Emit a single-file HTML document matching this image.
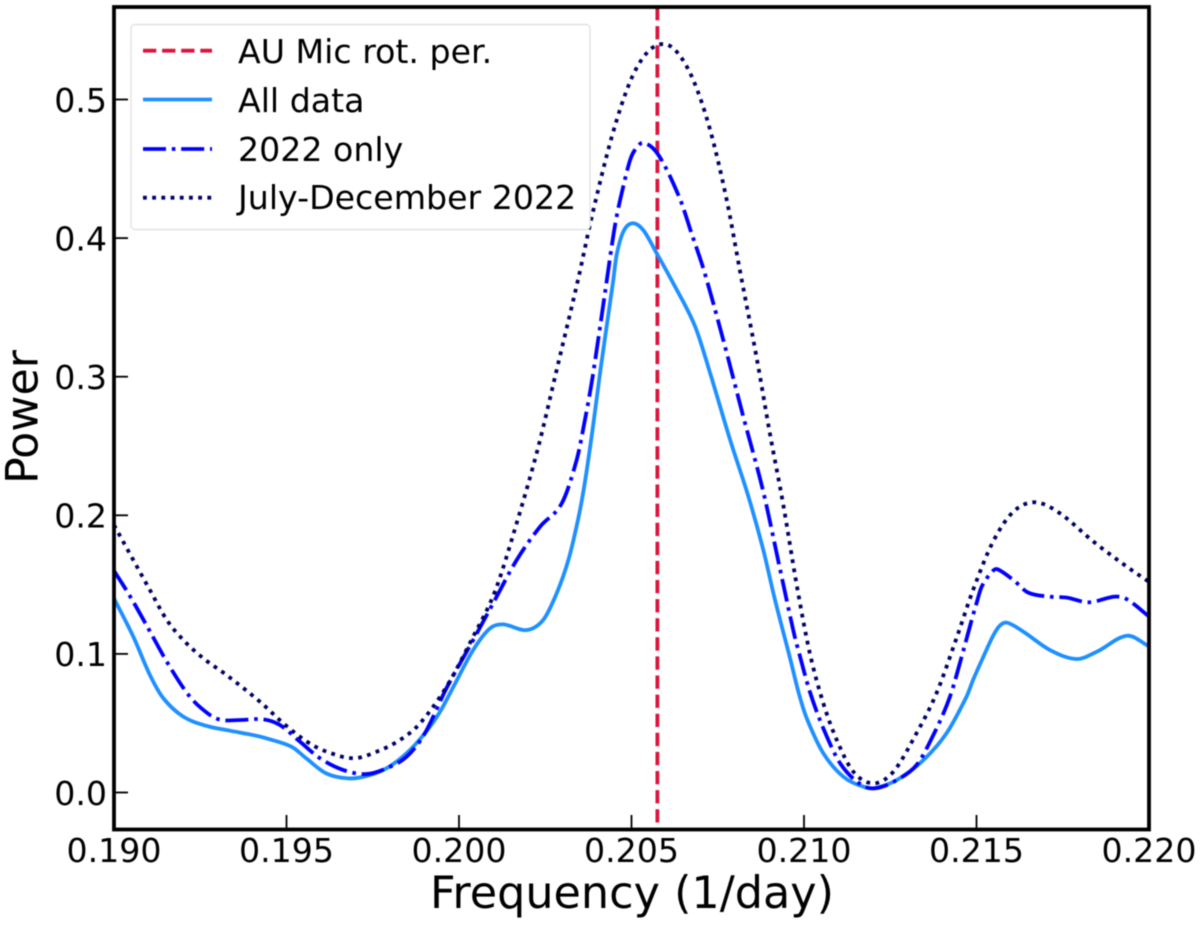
<!DOCTYPE html>
<html>
<head>
<meta charset="utf-8">
<title>Power vs Frequency</title>
<style>
html,body{margin:0;padding:0;background:#fff;width:1200px;height:925px;overflow:hidden}
svg{display:block;filter:blur(.4px)}
text{font-family:"DejaVu Sans","Liberation Sans",sans-serif;fill:#000}
</style>
</head>
<body>
<svg id="chart" xmlns="http://www.w3.org/2000/svg" width="1200" height="925" viewBox="0 0 1200 925">
  <defs>
    <clipPath id="plot-clip"><rect x="114" y="7" width="1035" height="822"></rect></clipPath>
  </defs>
  <rect x="0" y="0" width="1200" height="925" fill="#fff"></rect>
  <g id="series" clip-path="url(#plot-clip)"></g>
  <g id="ticks"></g>
  <rect x="114" y="7" width="1035" height="822.5" fill="none" stroke="#000" stroke-width="3.8"></rect>
  <text x="632" y="908" font-size="44.5" text-anchor="middle">Frequency (1/day)</text>
  <text transform="translate(37.5,417) rotate(-90)" font-size="44.3" text-anchor="middle">Power</text>
  <g>
    <rect x="131" y="24.5" width="459" height="205" rx="4" ry="4" fill="#fff" stroke="#e2e2e2" stroke-width="1.4"></rect>
    <line x1="143" x2="212" y1="50.7" y2="50.7" stroke="#dc143c" stroke-width="3.8" stroke-dasharray="13.3 5.8"></line>
    <text x="238" y="63" font-size="33.2">AU Mic rot. per.</text>
    <line x1="143" x2="212" y1="99.5" y2="99.5" stroke="#1e90ff" stroke-width="3.8"></line>
    <text x="238" y="112" font-size="33.2">All data</text>
    <line x1="143" x2="212" y1="149" y2="149" stroke="#0000ff" stroke-width="3.8" stroke-dasharray="23 5.8 3.6 5.8"></line>
    <text x="238" y="161" font-size="33.2">2022 only</text>
    <line x1="143" x2="212" y1="197.7" y2="197.7" stroke="#000066" stroke-width="3.8" stroke-dasharray="3.8 5.4"></line>
    <text x="238" y="209" font-size="33.2">July-December 2022</text>
  </g>
</svg>
<script>
const xTicks = [0.190, 0.195, 0.200, 0.205, 0.210, 0.215, 0.220];
const xTickLabels = ["0.190", "0.195", "0.200", "0.205", "0.210", "0.215", "0.220"];
const yTicks = [0.0, 0.1, 0.2, 0.3, 0.4, 0.5];
const yTickLabels = ["0.0", "0.1", "0.2", "0.3", "0.4", "0.5"];
const rotationFrequency = [0.20575];

const allFreq = [0.19,0.19056,0.19104,0.19143,0.19201,0.19269,0.19336,0.19398,0.19443,0.19515,0.19557,0.19615,0.19679,0.19732,0.1979,0.19848,0.19901,0.19945,0.19984,0.20041,0.2009,0.20128,0.20196,0.20244,0.20283,0.20317,0.20346,0.20365,0.20387,0.2041,0.20432,0.20446,0.20457,0.20477,0.20503,0.20534,0.20573,0.20621,0.20684,0.20728,0.20786,0.20839,0.20882,0.20916,0.20959,0.20985,0.21008,0.21056,0.21114,0.21172,0.21206,0.21269,0.21346,0.21413,0.21471,0.2149,0.2152,0.21548,0.21568,0.21589,0.21636,0.21713,0.2179,0.21849,0.21936,0.22];
const allPower = [0.14,0.1124,0.0848,0.068,0.0547,0.048,0.0446,0.0417,0.039,0.033,0.0247,0.0138,0.0102,0.0119,0.0175,0.0283,0.0427,0.0583,0.0764,0.1028,0.1185,0.1213,0.1172,0.1245,0.1437,0.1677,0.198,0.224,0.2615,0.3048,0.3433,0.3675,0.388,0.405,0.4107,0.4058,0.389,0.3674,0.3365,0.3025,0.2543,0.2134,0.175,0.1389,0.0975,0.0715,0.0535,0.0283,0.0114,0.0042,0.0032,0.009,0.0234,0.0427,0.0691,0.0812,0.098,0.113,0.1205,0.1225,0.116,0.1028,0.0963,0.1016,0.1131,0.1055];

const only2022Freq = [0.19,0.19046,0.19102,0.19157,0.1922,0.19278,0.19312,0.19365,0.19433,0.19481,0.19539,0.19597,0.19665,0.19732,0.1979,0.19848,0.19901,0.19964,0.20041,0.20104,0.20167,0.20235,0.20298,0.20341,0.20365,0.20385,0.20409,0.20423,0.20452,0.20476,0.20496,0.2051,0.20534,0.20578,0.20639,0.20675,0.20711,0.20766,0.20824,0.20882,0.2093,0.2097,0.20986,0.21017,0.21056,0.21106,0.21167,0.2121,0.21269,0.21326,0.21375,0.21423,0.21462,0.21486,0.215,0.21515,0.21548,0.21562,0.21607,0.2165,0.21713,0.21762,0.21825,0.21901,0.21936,0.22];
const only2022Power = [0.16,0.1418,0.1172,0.0927,0.0691,0.0559,0.0523,0.0523,0.0528,0.0487,0.0367,0.0247,0.0162,0.0133,0.0175,0.0258,0.0427,0.0754,0.11,0.1389,0.1677,0.1918,0.2087,0.2399,0.2688,0.2964,0.3361,0.3602,0.4089,0.4371,0.4563,0.4636,0.4688,0.46,0.4292,0.4027,0.3758,0.3265,0.2712,0.217,0.1618,0.1158,0.1004,0.0727,0.0463,0.0206,0.0054,0.0032,0.009,0.0198,0.0415,0.0691,0.1025,0.1245,0.1365,0.1485,0.16,0.161,0.1533,0.1442,0.1413,0.1406,0.1372,0.1413,0.1394,0.127];

const julyDecFreq = [0.19,0.19056,0.19104,0.19153,0.19201,0.19259,0.19326,0.19423,0.19491,0.19559,0.19617,0.19694,0.19761,0.19829,0.19887,0.19964,0.20041,0.20104,0.20167,0.2023,0.20283,0.20346,0.20385,0.20443,0.20496,0.20544,0.2059,0.20631,0.20679,0.20728,0.20776,0.20814,0.20863,0.20901,0.2094,0.20979,0.21017,0.21056,0.21095,0.21143,0.21201,0.21259,0.21326,0.21384,0.21442,0.2149,0.21548,0.21607,0.2167,0.21742,0.21839,0.21936,0.22];
const julyDecPower = [0.193,0.1677,0.1461,0.1245,0.11,0.0968,0.0848,0.0655,0.0499,0.0367,0.0294,0.0247,0.0294,0.0379,0.0499,0.0764,0.1124,0.1449,0.1942,0.2495,0.3048,0.371,0.4155,0.4732,0.5129,0.5335,0.54,0.5345,0.5141,0.478,0.4275,0.377,0.3133,0.2592,0.2075,0.1495,0.1004,0.0644,0.0379,0.015,0.0066,0.015,0.0427,0.0716,0.1113,0.1461,0.181,0.2026,0.2094,0.2014,0.181,0.1629,0.152];

const SVG_NS = "http://www.w3.org/2000/svg";
function xScale(f) { return 114 + (f - 0.19) * 34500; }
function yScale(v) { return 792.5 - v * 1386; }

function smoothPath(freqs, powers) {
  const px = freqs.map(xScale);
  const py = powers.map(yScale);
  const n = px.length;
  const m = [];
  for (let i = 0; i < n; i++) {
    if (i === 0) m.push((py[1] - py[0]) / (px[1] - px[0]));
    else if (i === n - 1) m.push((py[n - 1] - py[n - 2]) / (px[n - 1] - px[n - 2]));
    else m.push((py[i + 1] - py[i - 1]) / (px[i + 1] - px[i - 1]));
  }
  let d = "M" + px[0].toFixed(2) + " " + py[0].toFixed(2);
  for (let i = 0; i < n - 1; i++) {
    const h = (px[i + 1] - px[i]) / 3;
    d += "C" + (px[i] + h).toFixed(2) + " " + (py[i] + m[i] * h).toFixed(2) + " "
      + (px[i + 1] - h).toFixed(2) + " " + (py[i + 1] - m[i + 1] * h).toFixed(2) + " "
      + px[i + 1].toFixed(2) + " " + py[i + 1].toFixed(2);
  }
  return d;
}

const seriesGroup = document.getElementById("series");
const ticksGroup = document.getElementById("ticks");

function addCurve(freqs, powers, color, dash) {
  const el = document.createElementNS(SVG_NS, "path");
  el.setAttribute("d", smoothPath(freqs, powers));
  el.setAttribute("fill", "none");
  el.setAttribute("stroke", color);
  el.setAttribute("stroke-width", "3.8");
  el.setAttribute("stroke-linejoin", "round");
  if (dash) el.setAttribute("stroke-dasharray", dash);
  seriesGroup.appendChild(el);
  return el;
}

const rotationLine = document.createElementNS(SVG_NS, "line");
rotationLine.setAttribute("x1", xScale(rotationFrequency[0]));
rotationLine.setAttribute("x2", xScale(rotationFrequency[0]));
rotationLine.setAttribute("y1", "7");
rotationLine.setAttribute("y2", "829");
rotationLine.setAttribute("stroke", "#dc143c");
rotationLine.setAttribute("stroke-width", "3.8");
rotationLine.setAttribute("stroke-dasharray", "13.3 5.8");


seriesGroup.appendChild(rotationLine);

const allCurve = addCurve(allFreq, allPower, "#1e90ff", null);



const only2022Curve = addCurve(only2022Freq, only2022Power, "#0000ff", "23 5.8 3.6 5.8");



const julyDecCurve = addCurve(julyDecFreq, julyDecPower, "#000066", "3.8 5.4");



xTicks.forEach(function (t, i) {
  const x = xScale(t);
  const mark = document.createElementNS(SVG_NS, "line");
  mark.setAttribute("x1", x);
  mark.setAttribute("x2", x);
  mark.setAttribute("y1", "829");
  mark.setAttribute("y2", "815");
  mark.setAttribute("stroke", "#000");
  mark.setAttribute("stroke-width", "1.8");
  
  
  ticksGroup.appendChild(mark);
  const label = document.createElementNS(SVG_NS, "text");
  label.setAttribute("x", x);
  label.setAttribute("y", "862");
  label.setAttribute("font-size", "33.2");
  label.setAttribute("text-anchor", "middle");
  label.textContent = xTickLabels[i];
  
  
  ticksGroup.appendChild(label);
});

yTicks.forEach(function (t, i) {
  const y = yScale(t);
  const mark = document.createElementNS(SVG_NS, "line");
  mark.setAttribute("x1", "114");
  mark.setAttribute("x2", "128");
  mark.setAttribute("y1", y);
  mark.setAttribute("y2", y);
  mark.setAttribute("stroke", "#000");
  mark.setAttribute("stroke-width", "1.8");
  
  
  ticksGroup.appendChild(mark);
  const label = document.createElementNS(SVG_NS, "text");
  label.setAttribute("x", "107");
  label.setAttribute("y", y + 12.3);
  label.setAttribute("font-size", "33.2");
  label.setAttribute("text-anchor", "end");
  label.textContent = yTickLabels[i];
  
  
  ticksGroup.appendChild(label);
});
</script>
</body>
</html>
